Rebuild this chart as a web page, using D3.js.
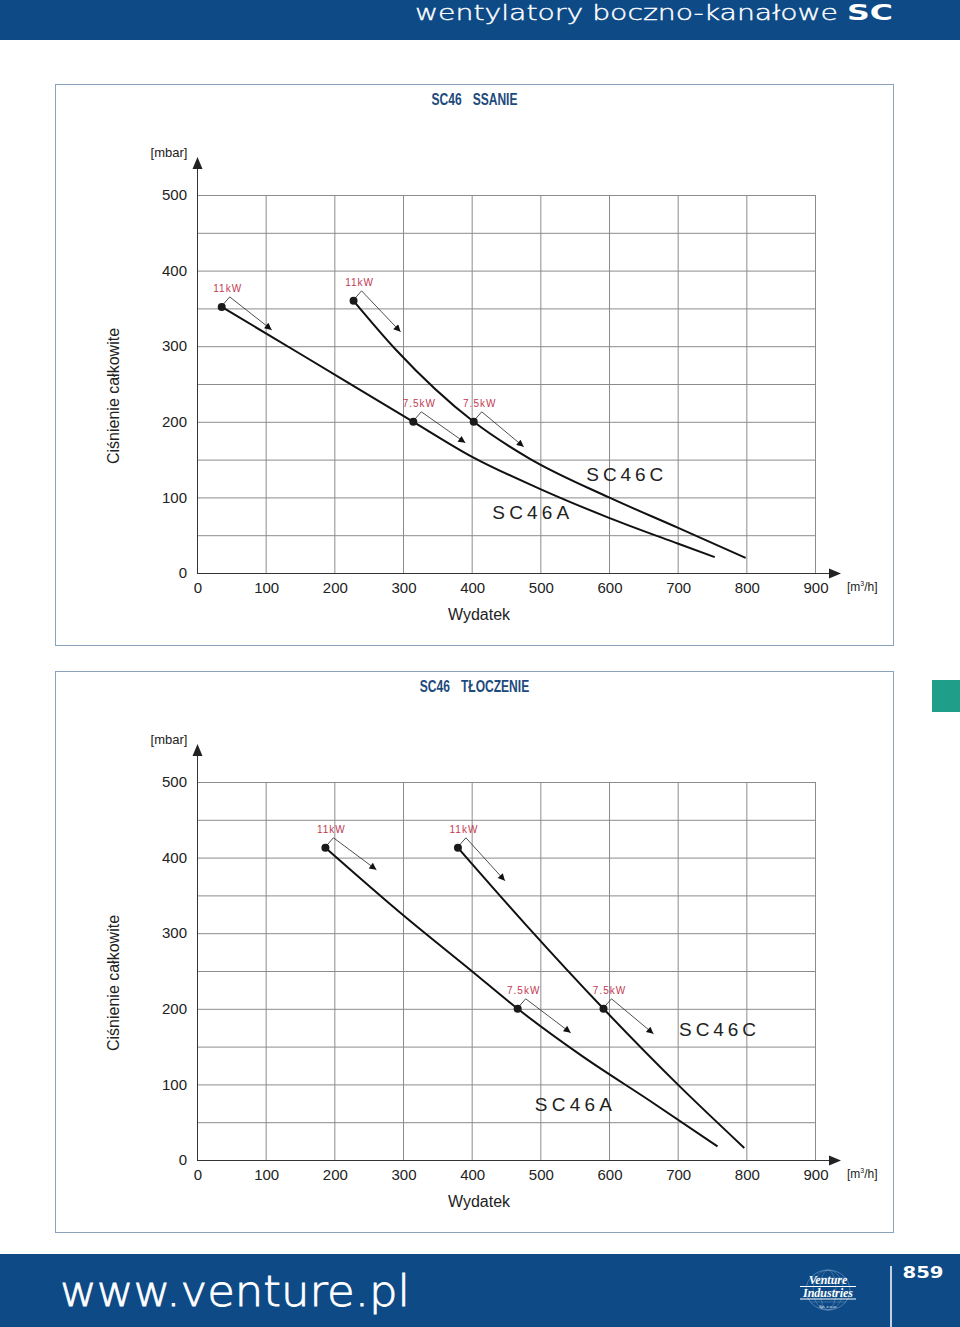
<!DOCTYPE html>
<html><head><meta charset="utf-8">
<script src="https://cdn.jsdelivr.net/npm/d3@7"></script>
<style>body{margin:0;background:#fff} svg{display:block}</style>
</head><body><svg id="c" width="960" height="1327"></svg>
<script>
// ---- data ----
const xTicks = [0,100,200,300,400,500,600,700,800,900];
const yTicks = [0,100,200,300,400,500];
const suctionA  = [[36,352],[150,290],[315,200],[400,154],[500,111],[600,73],[700,39],[754,21]];
const suctionC  = [[228,360],[290,295],[403,200],[483,152],[600,100],[700,60],[799,20]];
const pressureA = [[187,413],[300,324],[400,250],[467,200],[560,138],[660,78],[758,18]];
const pressureC = [[380,413],[480,310],[592,200],[700,100],[797,16]];
const suctionMarksA  = [[36,352,"11kW"],[315,200,"7.5kW"]];
const suctionMarksC  = [[228,360,"11kW"],[403,200,"7.5kW"]];
const pressureMarksA = [[187,413,"11kW"],[467,200,"7.5kW"]];
const pressureMarksC = [[380,413,"11kW"],[592,200,"7.5kW"]];
const curveNames = ["SC46A","SC46C"];
const panelTitles = [["SC46","SSANIE"],["SC46","TŁOCZENIE"]];
const yUnit = "[mbar]";
const yTitle = "Ciśnienie całkowite";
const xTitle = "Wydatek";

const svg = d3.select("#c");
const BLUE = "#0d4a86";
const RED = "#c23a52";

// header
svg.append("rect").attr("x",0).attr("y",0).attr("width",960).attr("height",40).attr("fill",BLUE);
svg.append("text").attr("x",415).attr("y",20).attr("fill","#fff")
  .attr("font-family","DejaVu Sans").attr("font-weight",200).attr("font-size",22)
  .attr("stroke","#fff").attr("stroke-width",0.4)
  .attr("textLength",423).attr("lengthAdjust","spacingAndGlyphs")
  .text("wentylatory boczno-kanałowe");
svg.append("text").attr("x",847).attr("y",20).attr("fill","#fff")
  .attr("font-family","DejaVu Sans").attr("font-weight",700).attr("font-size",22)
  .attr("textLength",46).attr("lengthAdjust","spacingAndGlyphs").text("SC");

// green tab
svg.append("rect").attr("x",932).attr("y",680).attr("width",28).attr("height",32).attr("fill","#1f9e8a");

// footer
svg.append("rect").attr("x",0).attr("y",1254).attr("width",960).attr("height",73).attr("fill",BLUE);
svg.append("text").attr("x",60).attr("y",1306).attr("fill","#fff")
  .attr("font-family","DejaVu Sans").attr("font-weight",200).attr("font-size",43)
  .attr("stroke","#fff").attr("stroke-width",0.8)
  .attr("textLength",350).attr("lengthAdjust","spacingAndGlyphs").text("www.venture.pl");
svg.append("line").attr("x1",891).attr("x2",891).attr("y1",1266).attr("y2",1327).attr("stroke","#fff").attr("stroke-width",1.5);
svg.append("text").attr("x",923).attr("y",1278).attr("fill","#fff").attr("text-anchor","middle")
  .attr("font-family","DejaVu Sans").attr("font-weight",700).attr("font-size",15)
  .attr("textLength",41).attr("lengthAdjust","spacingAndGlyphs").text("859");
// logo
const lg = svg.append("g").attr("transform","translate(828,1290)");
lg.append("ellipse").attr("rx",22).attr("ry",20).attr("fill","none").attr("stroke","#8fb0d6").attr("stroke-width",0.7).attr("opacity",0.7);
[8,15].forEach(r=>lg.append("ellipse").attr("rx",r).attr("ry",20).attr("fill","none").attr("stroke","#8fb0d6").attr("stroke-width",0.6).attr("opacity",0.6));
[-12,12].forEach(y=>lg.append("line").attr("x1",-18).attr("x2",18).attr("y1",y).attr("y2",y).attr("stroke","#8fb0d6").attr("stroke-width",0.6).attr("opacity",0.6));
lg.append("line").attr("x1",-28).attr("x2",28).attr("y1",-3.5).attr("y2",-3.5).attr("stroke","#fff").attr("stroke-width",1.2);
lg.append("line").attr("x1",-28).attr("x2",28).attr("y1",9).attr("y2",9).attr("stroke","#fff").attr("stroke-width",1.2);
lg.append("text").attr("y",-6).attr("text-anchor","middle").attr("fill","#fff").attr("font-family","Liberation Serif")
  .attr("font-style","italic").attr("font-weight",700).attr("font-size",12).text("Venture");
lg.append("text").attr("y",7).attr("text-anchor","middle").attr("fill","#fff").attr("font-family","Liberation Serif")
  .attr("font-style","italic").attr("font-weight",700).attr("font-size",12).text("Industries");
lg.append("text").attr("y",18).attr("text-anchor","middle").attr("fill","#fff").attr("font-family","Liberation Serif")
  .attr("font-style","italic").attr("font-size",5).text("Sp. z o.o.");

// arrowhead marker
svg.append("defs").append("marker").attr("id","ah").attr("viewBox","0 0 10 10").attr("refX",10).attr("refY",5)
  .attr("markerWidth",10).attr("markerHeight",7).attr("markerUnits","userSpaceOnUse").attr("orient","auto")
  .append("path").attr("d","M0,0L10,5L0,10Z").attr("fill","#111");

function panel(oy, title, seriesA, seriesC, marksA, marksC, labA, labC, arrowOffs){
  const g = svg.append("g").attr("transform",`translate(0,${oy})`);
  g.append("rect").attr("x",55.5).attr("y",84.5).attr("width",838).attr("height",561)
    .attr("fill","none").attr("stroke","#8aa2bb").attr("stroke-width",1);
  const tf = "'Liberation Sans',Arial,sans-serif";
  // title: two words, horizontally condensed
  const t1 = g.append("text").attr("y",105).attr("fill","#1d4a7c")
    .attr("font-family",tf).attr("font-weight",700).attr("font-size",16.5).text(title[0]);
  const t2 = g.append("text").attr("y",105).attr("fill","#1d4a7c")
    .attr("font-family",tf).attr("font-weight",700).attr("font-size",16.5).text(title[1]);
  const w1 = t1.node().getComputedTextLength()*0.73, w2 = t2.node().getComputedTextLength()*0.73;
  const gap = 11, x0 = 474.5 - (w1+gap+w2)/2;
  t1.attr("x",x0).attr("textLength",w1).attr("lengthAdjust","spacingAndGlyphs");
  t2.attr("x",x0+w1+gap).attr("textLength",w2).attr("lengthAdjust","spacingAndGlyphs");

  const x = d3.scaleLinear().domain([0,900]).range([197,815]);
  const y = d3.scaleLinear().domain([0,500]).range([573,195]);

  // grid
  const gridY = d3.range(0,501,50);
  g.append("g").selectAll("line").data(gridY).join("line")
    .attr("x1",x(0)).attr("x2",x(900)).attr("y1",d=>y(d)+0.5).attr("y2",d=>y(d)+0.5)
    .attr("stroke","#8c8c8c").attr("stroke-width",1);
  g.append("g").selectAll("line").data(xTicks.slice(1)).join("line")
    .attr("x1",d=>x(d)+0.5).attr("x2",d=>x(d)+0.5).attr("y1",y(0)).attr("y2",y(500))
    .attr("stroke","#8c8c8c").attr("stroke-width",1);

  // axes
  g.append("line").attr("x1",x(0)+0.5).attr("x2",x(0)+0.5).attr("y1",y(0)).attr("y2",166).attr("stroke","#333").attr("stroke-width",1);
  g.append("path").attr("d",`M${x(0)+0.5},157L${x(0)+5.5},169L${x(0)-4.5},169Z`).attr("fill","#222");
  g.append("line").attr("x1",x(0)).attr("x2",832).attr("y1",y(0)+0.5).attr("y2",y(0)+0.5).attr("stroke","#333").attr("stroke-width",1);
  g.append("path").attr("d",`M841,${y(0)+0.5}L829,${y(0)-4.5}L829,${y(0)+5.5}Z`).attr("fill","#222");

  const lf = "'Liberation Sans',Arial,sans-serif";
  g.append("g").selectAll("text").data(yTicks).join("text")
    .attr("x",187).attr("y",d=>y(d)).attr("dy","0.35em").attr("text-anchor","end")
    .attr("font-family",lf).attr("font-size",15).attr("fill","#222").text(d=>d);
  g.append("g").selectAll("text").data(xTicks).join("text")
    .attr("x",d=>x(d)+1).attr("y",588).attr("dy","0.35em").attr("text-anchor","middle")
    .attr("font-family",lf).attr("font-size",15).attr("fill","#222").text(d=>d);
  g.append("text").attr("x",169).attr("y",152).attr("dy","0.35em").attr("text-anchor","middle")
    .attr("font-family",lf).attr("font-size",13).attr("fill","#222").text(yUnit);
  const u = g.append("text").attr("x",847).attr("y",591).attr("font-family",lf).attr("font-size",12).attr("fill","#222");
  u.append("tspan").text("[m");
  u.append("tspan").attr("font-size",7).attr("dy",-5).text("3");
  u.append("tspan").attr("dy",5).text("/h]");
  g.append("text").attr("transform","translate(119,396) rotate(-90)").attr("text-anchor","middle")
    .attr("font-family",lf).attr("font-size",16).attr("fill","#222").text(yTitle);
  g.append("text").attr("x",479).attr("y",620).attr("text-anchor","middle")
    .attr("font-family",lf).attr("font-size",16).attr("fill","#222").text(xTitle);

  // curves
  const line = d3.line().x(d=>x(d[0])).y(d=>y(d[1])).curve(d3.curveMonotoneX);
  [seriesA, seriesC].forEach(s=>g.append("path").attr("d",line(s)).attr("fill","none")
    .attr("stroke","#111").attr("stroke-width",2));

  // markers + annotations
  const marks = [...marksA.map((m,i)=>({m,off:arrowOffs[0][i]})), ...marksC.map((m,i)=>({m,off:arrowOffs[1][i]}))];
  marks.forEach(({m,off})=>{
    const px = x(m[0]), py = y(m[1]);
    const ax = px+8, ay = py-10;
    g.append("path").attr("d",`M${px+1},${py-2}L${ax},${ay}L${ax+off[0]},${ay+off[1]}`)
      .attr("fill","none").attr("stroke","#222").attr("stroke-width",0.8).attr("marker-end","url(#ah)");
    g.append("circle").attr("cx",px).attr("cy",py).attr("r",4).attr("fill","#1a1a1a");
    g.append("text").attr("x",ax-2).attr("y",ay-5).attr("text-anchor","middle")
      .attr("font-family",lf).attr("font-size",10).attr("letter-spacing",1).attr("fill",RED).text(m[2]);
  });

  // curve names
  [[labA,curveNames[0]],[labC,curveNames[1]]].forEach(([p,n])=>{
    g.append("text").attr("x",x(p[0])).attr("y",y(p[1])).attr("dy","0.35em")
      .attr("font-family",lf).attr("font-size",19).attr("fill","#222")
      .attr("textLength",77).attr("lengthAdjust","spacing").text(n);
  });
}

panel(0, panelTitles[0], suctionA, suctionC, suctionMarksA, suctionMarksC,
  [430,80],[567,130],[[[42,33],[44,31]],[[39,41],[42,35]]]);
panel(587, panelTitles[1], pressureA, pressureC, pressureMarksA, pressureMarksC,
  [492,74],[702,173],[[[43,32],[45,34]],[[39,43],[42,35]]]);
</script></body></html>
